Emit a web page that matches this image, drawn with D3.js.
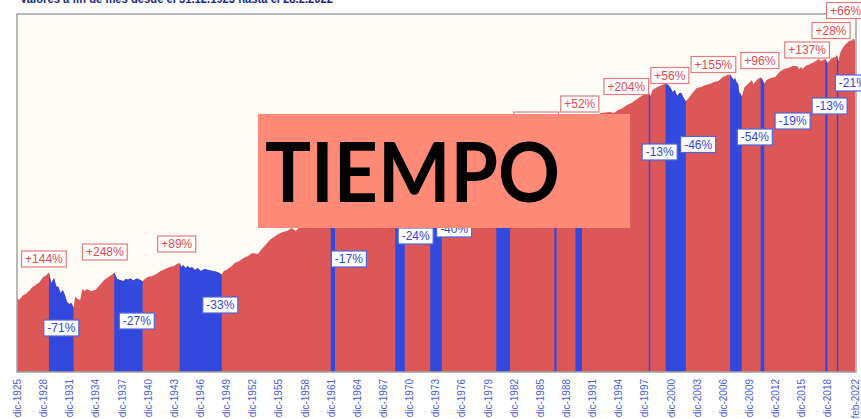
<!DOCTYPE html>
<meta charset="utf-8" />
<head>
  <script src="https://d3js.org/d3.v7.min.js"></script>
  <style>
    body { margin: 0; background: #ffffff; }
    svg { display: block; }
  </style>
</head>
<body>
<div id="my_chart"></div>
<script>
  // month-end values of the index (dic-1925 = 10)
  var months = [
    "1925-12","1926-03","1926-06","1926-09","1926-12","1927-03","1927-06","1927-09","1927-12","1928-03","1928-06","1928-09","1928-12","1929-03","1929-06","1929-08",
    "1929-10","1929-11","1929-12","1930-03","1930-06","1930-09","1930-12","1931-03","1931-06","1931-09","1931-12","1932-03","1932-06",
    "1932-08","1932-12","1933-03","1933-06","1933-09","1933-12","1934-06","1934-12","1935-06","1935-12","1936-06","1936-12","1937-02",
    "1937-04","1937-06","1937-09","1937-12","1938-03","1938-06","1938-09","1938-12","1939-04","1939-09","1939-12","1940-05",
    "1940-08","1940-12","1941-06","1941-12","1942-06","1942-12","1943-06","1943-12","1944-04","1944-08",
    "1944-10","1945-01","1945-04","1945-07","1945-10","1946-01","1946-05","1946-09","1947-01","1947-06","1947-12","1948-06","1948-12","1949-06",
    "1949-09","1949-12","1950-06","1950-12","1951-06","1951-12","1952-06","1952-12","1953-08","1953-12","1954-06","1954-12","1955-06","1955-12","1956-06","1956-12","1957-06","1957-12","1958-06","1958-12","1959-06","1959-12","1960-06","1960-10","1961-06","1961-12",
    "1962-03","1962-06",
    "1962-12","1963-06","1963-12","1964-06","1964-12","1965-06","1965-12","1966-09","1966-12","1967-06","1967-12","1968-06","1968-12","1969-05",
    "1969-09","1969-12","1970-03","1970-06",
    "1970-12","1971-06","1971-12","1972-06","1972-12","1973-05",
    "1973-09","1973-12","1974-03","1974-06","1974-09",
    "1974-12","1975-06","1975-12","1976-06","1976-12","1977-06","1977-12","1978-06","1978-12","1979-06","1979-12","1980-06","1980-12",
    "1981-06","1981-09","1981-12","1982-03","1982-07",
    "1982-12","1983-06","1983-12","1984-06","1984-12","1985-06","1985-12","1986-06","1986-12","1987-04","1987-08",
    "1987-11",
    "1988-06","1988-12","1989-06","1989-09","1990-01",
    "1990-04","1990-07","1990-10",
    "1991-03","1991-12","1992-06","1992-12","1993-06","1993-12","1994-06","1994-12","1995-06","1995-12","1996-06","1996-12","1997-06","1997-12","1998-06",
    "1998-08",
    "1998-11","1999-06","1999-12","2000-05",
    "2000-09","2000-12","2001-03","2001-06","2001-09","2001-12","2002-03","2002-06","2002-09",
    "2002-12","2003-06","2003-12","2004-06","2004-12","2005-06","2005-12","2006-06","2006-12","2007-06","2007-10",
    "2007-12","2008-03","2008-05","2008-06","2008-09","2008-11","2008-12","2009-02",
    "2009-06","2009-12","2010-04","2010-06","2010-12","2011-04",
    "2011-06","2011-09",
    "2011-12","2012-06","2012-12","2013-06","2013-12","2014-06","2014-12","2015-06","2015-09","2015-12","2016-02","2016-06","2016-12","2017-06","2017-12","2018-03","2018-09",
    "2018-12",
    "2019-06","2019-09","2019-12","2020-01",
    "2020-03",
    "2020-06","2020-09","2020-12","2021-03","2021-06","2021-09","2021-12","2022-02"
  ];
  var values = [
    10.0, 9.32, 10.36, 11.11, 11.51, 12.34, 13.24, 14.71, 15.24, 16.34, 16.93, 18.81, 20.89, 21.64, 23.21, 24.40,
    19.48, 16.93, 17.53, 20.17, 15.24, 14.71, 11.92, 13.24, 11.11, 8.69, 8.10, 8.39, 7.08,
    10.36, 9.66, 9.32, 13.71, 12.78, 13.71, 12.78, 13.24, 15.78, 18.81, 20.89, 23.21, 24.64,
    21.64, 19.48, 18.9, 18.5, 18.2, 19.6, 19.0, 20.0, 18.4, 19.8, 19.3, 17.99,
    19.48, 20.89, 21.64, 23.21, 25.79, 27.66, 29.68, 30.74, 32.97, 34.00,
    29.68, 31.83, 28.65, 30.74, 28.65, 29.68, 26.71, 28.65, 25.79, 27.66, 26.71, 25.79, 24.90, 22.78,
    25.79, 26.71, 29.68, 34.15, 36.63, 40.70, 43.65, 48.50, 46.83, 53.88, 64.21, 76.53, 85.03, 94.46, 101.3, 104.9, 116.6, 104.9, 125.1, 143.9, 159.9, 171.5, 165.6, 159.9, 227.1, 261.3,
    252.3, 216.9,
    252.3, 300.7, 334.1, 371.1, 398.1, 384.4, 442.4, 371.1, 384.4, 458.1, 474.5, 509.0, 527.1, 546.0,
    491.5, 509.0, 458.1, 415.0,
    509.0, 565.5, 585.6, 650.6, 722.8, 748.7,
    673.8, 606.5, 585.6, 527.1, 449.2,
    509.0, 698.0, 722.8, 831.9, 892.3, 831.9, 775.6, 831.9, 861.6, 957.2, 1063, 1224, 1408,
    1313, 1182, 1224, 1150, 1102,
    1620, 2000, 2071, 1931, 2222, 2647, 3156, 3630, 3760, 4481, 4978,
    3505,
    3894, 4178, 4806, 5050, 5328,
    5000, 5248, 4481,
    5730, 6147, 6050, 6593, 6700, 6828, 6593, 7324, 7857, 8730, 9364, 10403, 11558, 12841, 13622,
    11851,
    14776, 16416, 17610, 18488,
    17610, 15850, 13776, 14776, 11970, 13307, 13307, 11160, 9983,
    10776, 13307, 15850, 16416, 17610, 18240, 19570, 20270, 23320, 25020, 25458,
    23320, 20990, 22520, 20270, 18240, 12841, 13307, 11711,
    16416, 18900, 20990, 18240, 21740, 22954,
    21740, 18593,
    20990, 22510, 23320, 27790, 30870, 31980, 34300, 34300, 30870, 33120, 30870, 34300, 36800, 39470, 43850, 40880, 44010,
    38240,
    45420, 46230, 47880, 51360,
    40880,
    56070, 64510, 71680, 76880, 82470, 83920, 90030, 82470
  ];

  // peaks and troughs: bull (red) and bear (blue) phases alternate between them
  var turningPoints = [
    "1929-08","1932-06","1937-02","1940-05","1944-08","1949-06","1961-12","1962-06",
    "1969-05","1970-06","1973-05","1974-09","1980-12","1982-07","1987-08","1987-11",
    "1990-01","1990-10","1998-06","1998-08","2000-05","2002-09","2007-10","2009-02",
    "2011-04","2011-09","2018-09","2018-12","2020-01","2020-03"
  ];

  var tickMonths = [
    "1925-12","1928-12","1931-12","1934-12","1937-12","1940-12","1943-12","1946-12",
    "1949-12","1952-12","1955-12","1958-12","1961-12","1964-12","1967-12","1970-12",
    "1973-12","1976-12","1979-12","1982-12","1985-12","1988-12","1991-12","1994-12",
    "1997-12","2000-12","2003-12","2006-12","2009-12","2012-12","2015-12","2018-12","2022-02"
  ];

  // gain / loss boxes: text, where it sits (month, index level), and its kind
  var labelTexts  = ["+144%","-71%","+248%","-27%","+89%","-33%","-17%","-24%","-40%","+229%",
                     "+52%","+204%","+56%","+155%","+96%","+137%","+28%","+66%",
                     "-13%","-46%","-54%","-19%","-13%","-21%"];
  var labelMonths = ["1929-01","1931-01","1936-01","1939-09","1944-04","1949-04","1964-01","1971-09","1976-02","1985-07",
                     "1990-07","1995-11","2000-11","2005-11","2011-03","2016-08","2019-05","2021-01",
                     "1999-09","2004-02","2010-08","2014-12","2019-03","2021-11"];
  var labelLevels = [39.3, 3.49, 50.2, 4.46, 66.5, 7.82, 39.3, 88.1, 112.6, 5157,
                     9045, 16706, 24576, 36140, 41600, 60130, 119140, 240530,
                     1678, 2183, 2841, 4978, 8430, 18900];
  var labelKinds  = ["up","down","up","down","up","down","down","down","down","up",
                     "up","up","up","up","up","up","up","up",
                     "down","down","down","down","down","down"];

  var subtitle = "Valores a fin de mes desde el 31.12.1925 hasta el 28.2.2022";
  var overlayText = "TIEMPO";

  function parseMonth(s) {
    var p = s.split("-");
    return new Date(+p[0], +p[1], 0); // last day of that month
  }

  var data = months.map(function (m, i) {
    return { date: parseMonth(m), value: values[i] };
  });

  var W = 861, H = 419;
  var plot = { left: 17, top: 14, right: 856, bottom: 372 };

  var svg = d3.select("#my_chart")
    .append("svg")
    .attr("width", W)
    .attr("height", H);

  var x = d3.scaleTime()
    .domain([parseMonth(months[0]), parseMonth(months[months.length - 1])])
    .range([plot.left, plot.right - 1]);

  var y = d3.scaleLog()
    .domain([0.745, 212700])
    .range([plot.bottom, plot.top]);

  // plot background
  svg.append("rect")
    .attr("x", plot.left)
    .attr("y", plot.top)
    .attr("width", plot.right - plot.left)
    .attr("height", plot.bottom - plot.top)
    .attr("fill", "#fdfcf6");

  var area = d3.area()
    .x(function (d) { return x(d.date); })
    .y0(plot.bottom)
    .y1(function (d) { return y(d.value); });

  // whole series in red, then bear phases painted blue on top
  svg.append("path")
    .datum(data)
    .attr("d", area)
    .attr("fill", "#dc5858");

  var bounds = [months[0]].concat(turningPoints).concat([months[months.length - 1]]);
  for (var i = 1; i < bounds.length - 1; i += 2) {
    var a = parseMonth(bounds[i]), b = parseMonth(bounds[i + 1]);
    var seg = data.filter(function (d) { return d.date >= a && d.date <= b; });
    svg.append("path")
      .datum(seg)
      .attr("d", area)
      .attr("fill", "#3349de");
  }

  // frame
  svg.append("rect")
    .attr("x", plot.left)
    .attr("y", plot.top)
    .attr("width", plot.right - plot.left)
    .attr("height", plot.bottom - plot.top)
    .attr("fill", "none")
    .attr("stroke", "#a3a3a3")
    .attr("stroke-width", 1.5);

  // X axis with spanish month names
  var es = d3.timeFormatLocale({
    dateTime: "%A, %e de %B de %Y, %X",
    date: "%d/%m/%Y",
    time: "%H:%M:%S",
    periods: ["AM", "PM"],
    days: ["domingo","lunes","martes","miércoles","jueves","viernes","sábado"],
    shortDays: ["dom","lun","mar","mié","jue","vie","sáb"],
    months: ["enero","febrero","marzo","abril","mayo","junio","julio","agosto","septiembre","octubre","noviembre","diciembre"],
    shortMonths: ["ene","feb","mar","abr","may","jun","jul","ago","sep","oct","nov","dic"]
  });

  var xAxis = svg.append("g")
    .attr("transform", "translate(0," + plot.bottom + ")")
    .call(d3.axisBottom(x)
      .tickValues(tickMonths.map(parseMonth))
      .tickFormat(es.format("%b-%Y"))
      .tickSize(0));
  xAxis.select(".domain").remove();
  xAxis.selectAll("text")
    .attr("transform", "rotate(-90)")
    .attr("x", -7)
    .attr("y", 0)
    .attr("dy", "0.35em")
    .style("text-anchor", "end")
    .style("font-family", "'Liberation Sans', Arial, sans-serif")
    .style("font-size", "10px")
    .attr("fill", "#4c5ed8");

  // gain / loss labels
  var lab = svg.append("g")
    .style("font-family", "'Liberation Sans', Arial, sans-serif")
    .style("font-size", "12px");

  labelTexts.forEach(function (t, i) {
    var up = labelKinds[i] == "up";
    var cx = x(parseMonth(labelMonths[i]));
    var cy = y(labelLevels[i]);
    var g = lab.append("g");
    var r = g.append("rect");
    var txt = g.append("text")
      .attr("x", cx)
      .attr("y", cy)
      .attr("dy", "0.36em")
      .attr("text-anchor", "middle")
      .attr("fill", up ? "#e04c4c" : "#3347d6")
      .text(t);
    var w = txt.node().getComputedTextLength() + 7;
    r.attr("x", cx - w / 2)
      .attr("y", cy - 8)
      .attr("width", w)
      .attr("height", 16)
      .attr("fill", "#ffffff")
      .attr("stroke", up ? "#e57c7c" : "#5064da")
      .attr("stroke-width", 1.2);
  });

  // subtitle, mostly cut off by the top edge
  svg.append("text")
    .attr("x", 20)
    .attr("y", 3)
    .attr("textLength", 313)
    .attr("lengthAdjust", "spacingAndGlyphs")
    .style("font-family", "'Liberation Sans', Arial, sans-serif")
    .style("font-size", "12px")
    .style("font-weight", "bold")
    .attr("fill", "#1b2a86")
    .text(subtitle);

  // overlay box
  svg.append("rect")
    .attr("x", 258)
    .attr("y", 114)
    .attr("width", 372)
    .attr("height", 114)
    .attr("fill", "#ff8a78");

  svg.append("text")
    .attr("x", 265)
    .attr("y", 202)
    .attr("textLength", 295)
    .attr("lengthAdjust", "spacingAndGlyphs")
    .style("font-family", "Lato, 'DejaVu Sans', sans-serif")
    .style("font-size", "83px")
    .style("font-weight", "bold")
    .attr("fill", "#000000")
    .text(overlayText);
</script>
</body>
